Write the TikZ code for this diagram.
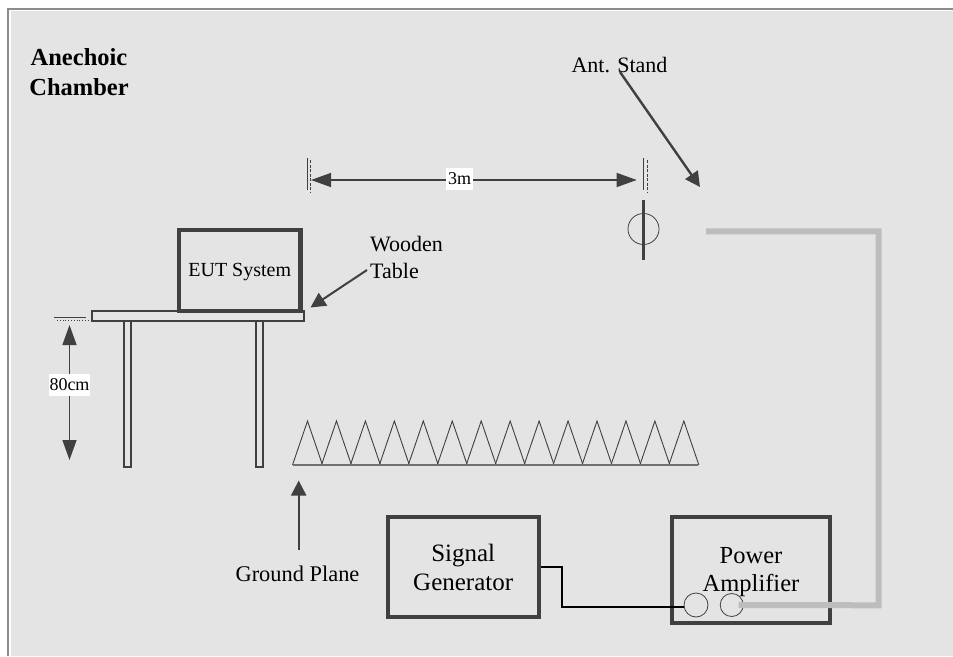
\documentclass[tikz,border=0pt]{standalone}
\usepackage{fontspec}
\setmainfont{Liberation Serif}
\usetikzlibrary{arrows.meta,positioning}
\definecolor{chamberfill}{RGB}{228,228,228}
\definecolor{chamberedge}{RGB}{140,140,140}
\definecolor{boxdark}{RGB}{64,64,64}
\definecolor{cablegray}{RGB}{189,189,189}
\newcommand{\fsize}[2]{\fontsize{#1}{#2}\selectfont}

\begin{document}
\begin{tikzpicture}[
    x=1pt, y=-1pt,
    unitbox/.style={draw=boxdark, line width=4.2pt, inner sep=0pt, align=center},
    plank/.style={draw=boxdark, line width=2pt, inner sep=0pt},
    port/.style={circle, draw=boxdark, line width=0.8pt, inner sep=0pt, minimum size=#1},
    label/.style={inner sep=0pt, text=black, align=center},
    dimlabel/.style={fill=white, inner sep=0pt, text=black, font=\fsize{18}{20}},
    dimarrow/.style={{Triangle[length=20pt,width=14pt]}-{Triangle[length=20pt,width=14pt]},
                     line width=1.4pt, boxdark},
    callout/.style={-{Triangle[length=15pt,width=15pt]}, line width=2pt, boxdark},
    tick/.style={line width=1pt, boxdark},
    dashtick/.style={line width=0.9pt, boxdark, dashed, dash pattern=on 3pt off 1.5pt},
    cable/.style={line width=6pt, cablegray, line join=miter},
    wire/.style={line width=2pt, black},
    wedge/.style={line width=0.9pt, boxdark}
]
\useasboundingbox (0,0) rectangle (953,656);
\fill[white] (0,0) rectangle (953,656);
\fill[chamberfill] (11,11) rectangle (953,656);
\draw[chamberedge, line width=2pt] (953,8.5) -- (7.5,8.5) -- (7.5,656);

\node[label, font=\fsize{24.5}{30}\bfseries] (chamber) at (79,72) {Anechoic\\Chamber};

% table and EUT
\node[plank, minimum width=212.5pt, minimum height=10pt] (tabletop) at (197.75,316) {};
\node[plank, minimum width=7.5pt, minimum height=146pt] (legL) at (127.5,394) {};
\node[plank, minimum width=7.5pt, minimum height=146pt] (legR) at (259.5,394) {};
\node[unitbox, minimum width=121.5pt, minimum height=81pt] (eut) at (239.75,270.5) {};
\node[label, font=\fsize{20}{24}] (eutText) at (239.75,272.5) {EUT System};

\node[label, anchor=west, align=left, font=\fsize{22}{27}] (wooden) at (370,257) {Wooden\\Table};
\coordinate (woodenTip) at (310.5,307.5);
\coordinate (woodenStart) at (367,270);
\draw[callout] (woodenStart) -- (woodenTip);

% height of the table
\coordinate (hTopA) at (54,317.5);
\coordinate (hTopB) at (86,317.5);
\coordinate (hDotA) at (57,320);
\coordinate (hDotB) at (89,320);
\coordinate (hUp) at (69.5,325);
\coordinate (hDown) at (69.5,460);
\draw[tick] (hTopA) -- (hTopB);
\draw[boxdark, line width=0.8pt, dotted] (hDotA) -- (hDotB);
\draw[dimarrow] (hUp) -- (hDown);
\node[dimlabel, minimum width=41pt, minimum height=22pt] (hLabel) at (69.5,385) {80cm};

% distance
\coordinate (dTopL) at (307.5,158);
\coordinate (dBotL) at (307.5,190);
\coordinate (dTopLb) at (310.7,160);
\coordinate (dBotLb) at (310.7,193);
\coordinate (dTopR) at (643.7,158);
\coordinate (dBotR) at (643.7,190);
\coordinate (dTopRb) at (647.3,160);
\coordinate (dBotRb) at (647.3,193);
\coordinate (dL) at (311,180);
\coordinate (dR) at (636.7,180);
\draw[tick] (dTopL) -- (dBotL);
\draw[dashtick] (dTopLb) -- (dBotLb);
\draw[tick] (dTopR) -- (dBotR);
\draw[dashtick] (dTopRb) -- (dBotRb);
\draw[dimarrow] (dL) -- (dR);
\node[dimlabel, minimum width=27pt, minimum height=22pt] (dLabel) at (459.5,179) {3m};

% antenna
\node[label, font=\fsize{22}{26}] (stand) at (619.5,65) {Ant. Stand};
\coordinate (standStart) at (620,72);
\coordinate (standTip) at (700,187);
\draw[callout, line width=2.4pt] (standStart) -- (standTip);
\node[port=31pt] (dipole) at (643.5,229) {};
\coordinate (mastTop) at (643.7,200);
\coordinate (mastBot) at (643.7,260);
\draw[boxdark, line width=3pt] (mastTop) -- (mastBot);

% absorbers
\coordinate (floorL) at (292.5,465);
\coordinate (floorR) at (698,465);
\foreach \i in {0,...,13}
    \draw[wedge] ({292.5+28.95*\i},465) -- ++(15,-44) -- ++(15,44);
\draw[chamberedge!80!black, line width=1.4pt] (floorL) -- (floorR);

\node[label, font=\fsize{22.4}{26}] (ground) at (297.5,573.5) {Ground Plane};
\coordinate (groundStart) at (298.7,550);
\coordinate (groundTip) at (298.7,480.5);
\draw[callout] (groundStart) -- (groundTip);

% instruments
\node[unitbox, minimum width=151pt, minimum height=100pt, font=\fsize{25}{29}] (siggen) at (463.2,567) {Signal\\Generator};
\node[unitbox, minimum width=158pt, minimum height=106.3pt] (amp) at (751,569.8) {};
\node[label, font=\fsize{24.5}{28}] (ampText) at (751,573.5) {Power\\\strut Amplifier};
\node[port=24pt] (portIn) at (696,605) {};
\node[port=23pt] (portOut) at (731.7,605) {};

\coordinate (feed) at (706,231.3);
\coordinate (cornerA) at (878.7,231.3);
\coordinate (cornerB) at (878.7,605.3);
\draw[cable, shorten >=-5pt] (feed) -- (cornerA) -- (cornerB) -- (portOut.east);

\coordinate (wireA) at (562,567);
\coordinate (wireB) at (562,607.3);
\draw[wire] (siggen.east |- wireA) -- (wireA) -- (wireB) -- (portIn.west |- wireB);
\end{tikzpicture}
\end{document}
